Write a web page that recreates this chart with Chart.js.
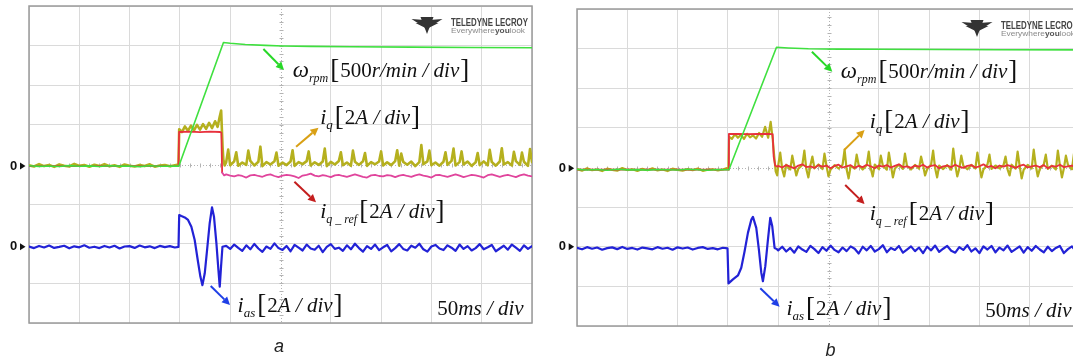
<!DOCTYPE html>
<html>
<head>
<meta charset="utf-8">
<script src="https://cdn.jsdelivr.net/npm/chart.js@4.4.1/dist/chart.umd.min.js"></script>
<style>
  html, body { margin: 0; padding: 0; background: #fff; overflow: hidden; }
  #wrap { position: relative; width: 1073px; height: 361px; overflow: hidden; }
  canvas { position: absolute; top: 0; }
  #scopeA { left: 0; }
  #scopeB { left: 540px; }
</style>
</head>
<body>
<div id="wrap">
  <canvas id="scopeA" width="540" height="361"></canvas>
  <canvas id="scopeB" width="550" height="361"></canvas>
</div>
<script>
// --- Scope scales (one division = 500 r/min for speed, 2 A for currents), time in ms ---
const RPM_PER_DIV = 500;
const AMP_PER_DIV = 2;
const TIME_TICKS = [0, 50, 100, 150, 200, 250, 300, 350, 400, 450, 500];

// common time bases (ms)
const tPre = [0, 5, 10, 15, 20, 25, 30, 35, 40, 45, 50, 55, 60, 65, 70,
  75, 80, 85, 90, 95, 100, 105, 110, 115, 120, 125, 130, 135, 140, 145];
const tA_post = [196, 200, 204, 208, 212, 216, 220, 224, 228, 232, 236,
  240, 244, 248, 252, 256, 260, 264, 268, 272, 276, 280,
  284, 288, 292, 296, 300, 304, 308, 312, 316, 320, 324,
  328, 332, 336, 340, 344, 348, 352, 356, 360, 364, 368,
  372, 376, 380, 384, 388, 392, 396, 400, 404, 408, 412,
  416, 420, 424, 428, 432, 436, 440, 444, 448, 452, 456,
  460, 464, 468, 472, 476, 480, 484, 488, 492, 496, 500];
const tB_post = [200, 204, 208, 212, 216, 220, 224, 228, 232, 236, 240,
  244, 248, 252, 256, 260, 264, 268, 272, 276, 280, 284,
  288, 292, 296, 300, 304, 308, 312, 316, 320, 324, 328,
  332, 336, 340, 344, 348, 352, 356, 360, 364, 368, 372,
  376, 380, 384, 388, 392, 396, 400, 404, 408, 412, 416,
  420, 424, 428, 432, 436, 440, 444, 448, 452, 456, 460,
  464, 468, 472, 476, 480, 484, 488, 492, 496, 500, 504];

// ===== Panel a =====
// speed (r/min)
const tA_w = [0, 10, 20, 30, 40, 50, 60, 70, 80, 90, 100, 110, 120, 130, 140, 149,
  193.3, 200, 215, 235, 252, 280, 320, 380, 440, 500];
const wA = [-15, -24, -18, -26, -14, -22, -17, -25, -16, -21, -19, -27, -15, -23, -18, -20,
  1540, 1530, 1515, 1503, 1496, 1490, 1486, 1481, 1477, 1473];
// iq (A)
const iqA_pre = [-0.04, -0.10, 0.02, -0.08, -0.02, -0.12, 0.00, -0.06, -0.10, 0.03, -0.07, -0.03, -0.11, -0.01, -0.08,
  0.02, -0.09, -0.04, -0.12, 0.00, -0.06, -0.10, -0.02, -0.08, 0.01, -0.11, -0.05, -0.03, -0.09, -0.04];
const tA_iqStep = [148.6, 149.3, 152, 155, 158, 161, 164, 167, 170, 173, 176, 179, 182, 185, 187.5, 189.5, 191.0, 192.4, 193.2, 194.5];
const iqA_step = [0, 1.78, 1.64, 1.92, 1.70, 1.96, 1.72, 2.00, 1.76, 2.04, 1.80, 2.10, 1.84, 2.18, 1.90, 2.40, 2.72, 0.90, 0.25, -0.05];
const iqA_post = [0.12, -0.04, 0.16, -0.06, 0.10, -0.02, 0.18, -0.05, 0.14, -0.08, 0.12,
  0.00, 0.16, -0.06, 0.10, -0.03, 0.15, -0.07, 0.12, 0.02, 0.17, -0.05,
  0.11, -0.02, 0.15, -0.08, 0.13, 0.00, 0.18, -0.04, 0.10, -0.06, 0.14,
  -0.02, 0.16, -0.07, 0.12, 0.01, 0.15, -0.05, 0.11, -0.03, 0.17, -0.06,
  0.13, -0.01, 0.15, -0.08, 0.12, 0.02, 0.16, -0.04, 0.10, -0.06, 0.14,
  -0.02, 0.18, -0.05, 0.12, 0.00, 0.15, -0.07, 0.11, -0.03, 0.16, -0.04,
  0.13, -0.06, 0.15, 0.00, 0.12, -0.05, 0.17, -0.02, 0.14, -0.07, 0.12];
// iq spikes after the transient
const tA_iqSpike = [198, 206, 218, 230, 246, 262, 278, 294, 310, 322, 334, 350, 366, 370,
  390, 398, 414, 422, 430, 446, 458, 470, 482, 490, 498];
const iqA_spike = [0.75, 0.62, 0.70, 0.90, 0.60, 0.72, 0.66, 0.80, 0.62, 0.70, 0.58, 0.66, 0.72, 0.55,
  0.98, 0.70, 0.62, 0.80, 0.66, 0.58, 0.74, 0.82, 0.64, 0.60, 0.78];
// iq_ref (A)
const tA_ref = [0, 148.6, 149.2, 160, 170, 180, 190, 191.2, 192.0, 194];
const irefA_step = [-0.08, -0.08, 1.64, 1.66, 1.63, 1.66, 1.64, 1.60, -0.40, -0.55];
const irefA_post = [-0.50, -0.56, -0.60, -0.54, -0.58, -0.66, -0.55, -0.52, -0.58, -0.62, -0.54,
  -0.50, -0.58, -0.64, -0.56, -0.52, -0.55, -0.60, -0.68, -0.56, -0.52, -0.46,
  -0.56, -0.60, -0.54, -0.58, -0.64, -0.55, -0.52, -0.58, -0.62, -0.56, -0.50,
  -0.56, -0.62, -0.66, -0.55, -0.52, -0.58, -0.60, -0.54, -0.56, -0.64, -0.56,
  -0.52, -0.58, -0.62, -0.55, -0.50, -0.56, -0.60, -0.66, -0.54, -0.52, -0.58,
  -0.62, -0.56, -0.50, -0.56, -0.64, -0.58, -0.52, -0.55, -0.60, -0.66, -0.54,
  -0.50, -0.56, -0.62, -0.56, -0.52, -0.58, -0.64, -0.55, -0.50, -0.56, -0.60];
// ias (A)
const iasA_pre = [0.02, -0.06, 0.05, -0.03, 0.07, -0.05, 0.00, 0.06, -0.07, 0.03, -0.02, 0.08, -0.04, 0.01, -0.06,
  0.05, -0.03, 0.06, -0.08, 0.02, 0.04, -0.05, 0.07, -0.02, 0.03, -0.06, 0.05, -0.01, 0.04, -0.03];
const tA_iasStep = [148.6, 149.3, 151.5, 154.8, 158.1, 161.4, 164.7, 168.0, 170.4, 172.4, 174.7, 177.0, 179.6, 181.9, 183.9, 186.3, 188.3, 189.6, 190.9, 192.3];
const iasA_step = [0, 1.61, 1.56, 1.49, 1.36, 1.02, 0.35, -0.75, -1.51, -1.93, -1.33, -0.16, 1.19, 2.00, 1.52, 0.18, -1.17, -2.01, -1.00, 0.01];
const iasA_post = [0.05, -0.10, 0.12, -0.05, -0.20, 0.08, -0.12, 0.15, -0.08, -0.25, 0.02,
  -0.10, 0.18, -0.06, -0.15, 0.05, -0.22, 0.10, -0.04, -0.18, 0.12, -0.08,
  -0.14, 0.06, -0.26, 0.00, 0.14, -0.10, -0.04, -0.20, 0.08, -0.12, 0.16,
  -0.06, -0.24, 0.04, -0.10, 0.12, -0.16, -0.02, 0.10, -0.22, -0.06, 0.14,
  -0.10, -0.18, 0.06, -0.04, 0.16, -0.12, -0.24, 0.02, 0.10, -0.08, -0.16,
  0.08, -0.04, -0.20, 0.12, -0.10, 0.04, -0.18, -0.06, 0.14, -0.12, -0.02,
  0.10, -0.22, -0.08, 0.06, -0.14, 0.12, -0.04, -0.20, 0.08, -0.10, 0.04];

// ===== Panel b =====
const tB_w = [0, 10, 20, 30, 40, 50, 60, 70, 80, 90, 100, 110, 120, 130, 140, 151,
  198.3, 210, 230, 260, 300, 360, 420, 500];
const wB = [-24, -32, -26, -34, -22, -30, -27, -33, -25, -29, -31, -23, -28, -34, -26, -29,
  1517, 1508, 1498, 1494, 1492, 1489, 1486, 1484];
const iqB_pre = [-0.08, -0.16, -0.04, -0.14, -0.10, -0.18, -0.06, -0.12, -0.16, -0.03, -0.13, -0.09, -0.17, -0.07, -0.14,
  -0.04, -0.15, -0.10, -0.18, -0.06, -0.12, -0.16, -0.08, -0.14, -0.05, -0.17, -0.11, -0.09, -0.15, -0.10];
const tB_iqStep = [150.5, 151.2, 154, 157, 160, 163, 166, 169, 172, 175, 178, 181, 184, 187, 190, 192.5, 194.5, 196, 197.5, 199];
const iqB_step = [0, 1.55, 1.45, 1.68, 1.50, 1.65, 1.44, 1.70, 1.52, 1.62, 1.46, 1.74, 1.55, 2.05, 1.50, 2.30, 1.45, 0.60, -0.20, -0.40];
const iqB_post = [0.10, -0.08, 0.14, -0.10, 0.08, -0.06, 0.13, -0.09, 0.11, -0.04, 0.15,
  -0.08, 0.09, -0.11, 0.12, -0.05, 0.14, -0.09, 0.08, -0.06, 0.13, -0.10,
  0.11, -0.04, 0.15, -0.08, 0.10, -0.11, 0.12, -0.05, 0.14, -0.07, 0.09,
  -0.10, 0.13, -0.06, 0.11, -0.09, 0.15, -0.04, 0.10, -0.08, 0.12, -0.11,
  0.14, -0.06, 0.09, -0.09, 0.13, -0.05, 0.11, -0.10, 0.15, -0.07, 0.10,
  -0.04, 0.12, -0.09, 0.14, -0.06, 0.08, -0.11, 0.13, -0.05, 0.11, -0.08,
  0.15, -0.07, 0.09, -0.10, 0.12, -0.04, 0.14, -0.09, 0.10, -0.06, 0.12];
const tB_iqSpike = [202, 206, 214, 218, 226, 230, 234, 246, 250, 266, 270, 278, 290, 294, 302, 310, 314, 326,
  342, 346, 354, 358, 374, 378, 382, 398, 402, 410, 426, 430, 438, 442, 454, 458, 466, 478, 482, 486, 494, 498];
const iqB_spike = [0.75, -0.45, 0.60, -0.40, 0.85, -0.50, 0.55, 0.70, -0.45, 0.90, -0.55, 0.65, 0.80, -0.45, 0.60, 0.75, -0.50, 0.70,
  0.55, -0.40, 0.85, -0.50, 0.95, -0.45, 0.60, 0.75, -0.50, 0.65, 0.55, -0.40, 0.80, -0.55, 0.90, -0.45, 0.65, 0.85, -0.50, 0.60, 0.70, -0.45];
const tB_ref = [0, 150.5, 151.0, 160, 170, 180, 190, 194.5, 195.5, 197, 199];
const irefB_step = [-0.11, -0.11, 1.69, 1.70, 1.68, 1.70, 1.69, 1.68, 0.55, 0.10, 0.04];
const irefB_post = [0.08, 0.00, 0.12, 0.04, -0.04, 0.10, 0.16, 0.02, 0.06, -0.02, 0.12,
  0.04, 0.10, -0.04, 0.08, 0.14, 0.00, 0.06, 0.12, -0.02, 0.08, 0.02,
  0.14, 0.06, -0.04, 0.10, 0.04, 0.12, 0.00, 0.08, 0.16, 0.02, 0.06,
  -0.02, 0.10, 0.04, 0.14, 0.00, 0.08, 0.12, -0.04, 0.06, 0.10, 0.02,
  0.14, 0.04, -0.02, 0.08, 0.12, 0.00, 0.06, 0.16, 0.02, 0.08, -0.04,
  0.10, 0.04, 0.12, 0.06, -0.02, 0.08, 0.14, 0.00, 0.06, 0.10, 0.02,
  0.12, -0.04, 0.08, 0.04, 0.14, 0.02, 0.06, 0.10, -0.02, 0.08, 0.04];
const iasB_pre = [0.03, -0.05, 0.06, -0.02, 0.04, -0.07, 0.01, 0.05, -0.04, 0.07, -0.03, 0.02, -0.06, 0.04, 0.00,
  -0.05, 0.06, -0.02, 0.03, -0.07, 0.05, -0.01, 0.04, -0.06, 0.02, 0.06, -0.03, 0.01, -0.05, 0.03];
const tB_iasStep = [149.6, 150.6, 155, 160, 163.3, 166.6, 169.9, 173.3, 174.9, 178.2, 180.8, 183.2, 184.8, 187.2, 189.8, 192.1, 194.1, 196.4, 198.7];
const iasB_step = [0, -1.77, -1.57, -1.37, -0.98, -0.15, 0.78, 1.45, 1.59, 1.03, -0.06, -1.23, -1.66, -0.90, 0.44, 1.54, 1.11, 0.02, -0.04];
const iasB_post = [-0.10, 0.08, -0.16, 0.02, -0.22, 0.10, -0.06, -0.18, 0.12, -0.04, -0.24,
  0.06, -0.12, 0.14, -0.08, -0.20, 0.04, -0.14, 0.10, -0.02, -0.26, 0.08,
  -0.10, 0.12, -0.16, -0.04, 0.16, -0.20, 0.02, -0.08, 0.12, -0.22, -0.06,
  0.10, -0.14, 0.04, -0.24, 0.08, -0.10, 0.14, -0.18, -0.02, 0.12, -0.12,
  -0.22, 0.06, -0.08, 0.16, -0.16, 0.00, -0.24, 0.10, -0.06, 0.12, -0.20,
  0.04, -0.10, 0.14, -0.18, -0.04, 0.10, -0.22, 0.06, -0.12, 0.12, -0.06,
  -0.20, 0.08, -0.14, 0.02, 0.12, -0.24, -0.04, 0.10, -0.16, 0.06, -0.10];

// --- colours ---
const C_GREEN = '#3fe03f';
const C_OLIVE = '#b5b01e';
const C_RED = '#e8303c';
const C_MAGENTA = '#e0449c';
const C_BLUE = '#2222d6';
const SERIF = '"Liberation Serif", "Times New Roman", serif';
const SANS = '"Liberation Sans", Arial, sans-serif';

// ias channel sits two divisions below centre
const IAS_ZERO_A = -2.08;
const IAS_ZERO_B = -2.04;

// join (times, values) chunks into {x, y} points in divisions, time-ordered
function trace(parts, perDiv, zeroDiv) {
  const out = [];
  parts.forEach(([ts, vs]) => {
    ts.forEach((t, i) => out.push({ x: t, y: vs[i] / perDiv + (zeroDiv || 0) }));
  });
  return out.sort((p, q) => p.x - q.x);
}

function line(data, color, width, extra) {
  return Object.assign({ data, borderColor: color, borderWidth: width, pointRadius: 0, fill: false }, extra || {});
}

// --- drawing helpers ---
function runText(ctx, x, y, runs) {
  runs.forEach(r => {
    ctx.font = r[1] + ' ' + SERIF;
    ctx.fillText(r[0], x, y + (r[2] || 0));
    x += ctx.measureText(r[0]).width + (r[3] || 0);
  });
}

function arrow(ctx, color, x0, y0, x1, y1) {
  const a = Math.atan2(y1 - y0, x1 - x0);
  const hl = 8, hw = 4;
  ctx.strokeStyle = color;
  ctx.fillStyle = color;
  ctx.lineWidth = 2;
  ctx.beginPath();
  ctx.moveTo(x0, y0);
  ctx.lineTo(x1 - Math.cos(a) * hl, y1 - Math.sin(a) * hl);
  ctx.stroke();
  ctx.beginPath();
  ctx.moveTo(x1, y1);
  ctx.lineTo(x1 - Math.cos(a) * hl - Math.sin(a) * hw, y1 - Math.sin(a) * hl + Math.cos(a) * hw);
  ctx.lineTo(x1 - Math.cos(a) * hl + Math.sin(a) * hw, y1 - Math.sin(a) * hl - Math.cos(a) * hw);
  ctx.closePath();
  ctx.fill();
}

function logo(ctx, x, y) {
  ctx.fillStyle = '#333';
  const tri = (p) => { ctx.beginPath(); ctx.moveTo(p[0], p[1]); ctx.lineTo(p[2], p[3]); ctx.lineTo(p[4], p[5]); ctx.closePath(); ctx.fill(); };
  tri([x, y + 2, x + 13, y + 3, x + 11, y + 9]);
  tri([x + 31, y + 2, x + 18, y + 3, x + 20, y + 9]);
  tri([x + 9, y, x + 22, y, x + 15.5, y + 17]);
  tri([x + 4, y + 6, x + 12, y + 6, x + 14, y + 11]);
  tri([x + 27, y + 6, x + 19, y + 6, x + 17, y + 11]);
  // brand text squeezed to width
  const tx = x + 39.5;
  ctx.save();
  ctx.font = 'bold 10px ' + SANS;
  let w = ctx.measureText('TELEDYNE LECROY').width;
  ctx.translate(tx, y + 8.5);
  ctx.scale(77 / w, 1);
  ctx.fillStyle = '#444';
  ctx.fillText('TELEDYNE LECROY', 0, 0);
  ctx.restore();
  ctx.save();
  const p1 = 'Everywhere', p3 = 'look';
  ctx.font = 'bold 7px ' + SANS;
  const wy = ctx.measureText('you').width;
  ctx.font = '7px ' + SANS;
  w = ctx.measureText(p1).width + wy + ctx.measureText(p3).width;
  ctx.translate(tx, y + 15.5);
  ctx.scale(74 / w, 1);
  ctx.fillStyle = '#8a8a8a';
  ctx.fillText(p1, 0, 0);
  let cx = ctx.measureText(p1).width;
  ctx.font = 'bold 7px ' + SANS;
  ctx.fillStyle = '#555';
  ctx.fillText('you', cx, 0);
  cx += wy;
  ctx.font = '7px ' + SANS;
  ctx.fillStyle = '#8a8a8a';
  ctx.fillText(p3, cx, 0);
  ctx.restore();
}

// oscilloscope decorations: centre crosshair, frame, labels
function scopeDecor(cfg) {
  return {
    id: 'scopeDecor',
    beforeDatasetsDraw(chart) {
      const { ctx, chartArea: a, scales: { x, y } } = chart;
      const cx = Math.round(x.getPixelForValue(250)) + 0.5;
      const cy = Math.round(y.getPixelForValue(0)) + 0.5;
      ctx.save();
      ctx.strokeStyle = '#b4b4b4';
      ctx.lineWidth = 1;
      ctx.setLineDash([1, 2]);
      ctx.beginPath();
      ctx.moveTo(a.left, cy); ctx.lineTo(a.right, cy);
      ctx.moveTo(cx, a.top); ctx.lineTo(cx, a.bottom);
      ctx.stroke();
      ctx.setLineDash([]);
      ctx.beginPath();
      for (let t = 10; t < 500; t += 10) {
        const px = Math.round(x.getPixelForValue(t)) + 0.5;
        ctx.moveTo(px, cy - 2); ctx.lineTo(px, cy + 2);
      }
      for (let d = -3.8; d < 4; d += 0.2) {
        const py = Math.round(y.getPixelForValue(d)) + 0.5;
        ctx.moveTo(cx - 2, py); ctx.lineTo(cx + 2, py);
      }
      ctx.stroke();
      ctx.strokeStyle = '#9a9a9a';
      ctx.lineWidth = 1.5;
      ctx.strokeRect(a.left, a.top, a.right - a.left, a.bottom - a.top);
      ctx.restore();
    },
    afterDraw(chart) {
      const ctx = chart.ctx;
      ctx.save();
      ctx.translate(-cfg.offsetX, 0);
      ctx.textBaseline = 'alphabetic';
      ctx.textAlign = 'left';
      ctx.fillStyle = '#111';
      const L = cfg.labels;
      runText(ctx, L.omega[0], L.omega[1], [['ω', 'italic 23px'], ['rpm', 'italic 12px', 5, 2], ['[', '27px', 1, 1],
        ['500', '21px'], ['r/min', 'italic 21px'], [' / div', 'italic 21px', 0, 1], [']', '27px', 1]]);
      runText(ctx, L.iq[0], L.iq[1], [['i', 'italic 22px'], ['q', 'italic 13px', 5, 2], ['[', '27px', 1, 1],
        ['2', '21px'], ['A / div', 'italic 21px', 0, 1], [']', '27px', 1]]);
      runText(ctx, L.iqref[0], L.iqref[1], [['i', 'italic 22px'], ['q _ ref', 'italic 12px', 5, 2], ['[', '27px', 1, 1],
        ['2', '21px'], ['A / div', 'italic 21px', 0, 1], [']', '27px', 1]]);
      runText(ctx, L.ias[0], L.ias[1], [['i', 'italic 22px'], ['as', 'italic 13px', 5, 2], ['[', '27px', 1, 1],
        ['2', '21px'], ['A / div', 'italic 21px', 0, 1], [']', '27px', 1]]);
      runText(ctx, L.time[0], L.time[1], [['50', '21px'], ['ms / div', 'italic 21px']]);
      cfg.arrows.forEach(a => arrow(ctx, a[0], a[1], a[2], a[3], a[4]));
      logo(ctx, cfg.logo[0], cfg.logo[1]);
      // channel zero markers
      ctx.fillStyle = '#111';
      ctx.font = 'bold 13px ' + SANS;
      ctx.textBaseline = 'middle';
      cfg.zeros.forEach(([zx, zy]) => {
        ctx.fillText('0', zx, zy);
        ctx.beginPath();
        ctx.moveTo(zx + 10, zy - 3.5); ctx.lineTo(zx + 15.5, zy); ctx.lineTo(zx + 10, zy + 3.5);
        ctx.closePath(); ctx.fill();
      });
      ctx.font = 'italic 18px ' + SANS;
      ctx.textAlign = 'center';
      ctx.textBaseline = 'alphabetic';
      ctx.fillStyle = '#222';
      ctx.fillText(cfg.letter[0], cfg.letter[1], cfg.letter[2]);
      ctx.restore();
    }
  };
}

function gridColor(hideValue) {
  return (c) => (c.tick && c.tick.value === hideValue) ? 'rgba(0,0,0,0)' : '#dadada';
}

function scopeChart(id, pad, datasets, deco) {
  return new Chart(document.getElementById(id), {
    type: 'line',
    data: { datasets },
    options: {
      responsive: false,
      animation: false,
      devicePixelRatio: 1,
      events: [],
      layout: { padding: pad, autoPadding: false },
      elements: { line: { tension: 0, borderJoinStyle: 'round', borderCapStyle: 'round' }, point: { radius: 0 } },
      plugins: { legend: { display: false }, tooltip: { enabled: false } },
      scales: {
        x: {
          type: 'linear', min: 0, max: 500,
          afterBuildTicks: (s) => { s.ticks = TIME_TICKS.map(v => ({ value: v })); },
          ticks: { display: false },
          grid: { color: gridColor(250), drawTicks: false, lineWidth: 1 },
          border: { display: false }
        },
        y: {
          type: 'linear', min: -4, max: 4,
          ticks: { display: false, stepSize: 1 },
          grid: { color: gridColor(0), drawTicks: false, lineWidth: 1 },
          border: { display: false }
        }
      }
    },
    plugins: [scopeDecor(deco)]
  });
}

// --- Panel a ---
scopeChart('scopeA', { left: 29, top: 6, right: 8, bottom: 38 }, [
  line(trace([[tA_w, wA]], RPM_PER_DIV), C_GREEN, 1.6),
  line(trace([[tA_ref, irefA_step], [tA_post, irefA_post]], AMP_PER_DIV), C_RED, 1.8, {
    segment: { borderColor: (s) => s.p0.parsed.x >= 192 ? C_MAGENTA : C_RED }
  }),
  line(trace([[tPre, iqA_pre], [tA_iqStep, iqA_step], [tA_post, iqA_post], [tA_iqSpike, iqA_spike]], AMP_PER_DIV), C_OLIVE, 2.6),
  line(trace([[tPre, iasA_pre], [tA_iasStep, iasA_step], [tA_post, iasA_post]], AMP_PER_DIV, IAS_ZERO_A), C_BLUE, 2.2)
], {
  offsetX: 0,
  zeros: [[10, 166], [10, 246.7]],
  letter: ['a', 279, 352],
  labels: { omega: [292.7, 77], iq: [320.2, 124], iqref: [320.2, 218], ias: [237.6, 311.7], time: [437.3, 315] },
  arrows: [['#27d827', 263.4, 49, 284, 70], ['#d9a015', 296.1, 146.7, 318.5, 127.7],
    ['#c41e1e', 294.4, 181.7, 316, 202.3], ['#1f3fe6', 210.7, 286, 230, 305]],
  logo: [411.5, 17]
});

// --- Panel b ---
scopeChart('scopeB', { left: 37, top: 9, right: 10, bottom: 35 }, [
  line(trace([[tB_w, wB]], RPM_PER_DIV), C_GREEN, 1.6),
  line(trace([[tB_ref, irefB_step], [tB_post, irefB_post]], AMP_PER_DIV), C_RED, 1.8),
  line(trace([[tPre, iqB_pre], [tB_iqStep, iqB_step], [tB_post, iqB_post], [tB_iqSpike, iqB_spike]], AMP_PER_DIV), C_OLIVE, 2.2),
  line(trace([[tPre, iasB_pre], [tB_iasStep, iasB_step], [tB_post, iasB_post]], AMP_PER_DIV, IAS_ZERO_B), C_BLUE, 2.2)
], {
  offsetX: 540,
  zeros: [[558.7, 168.3], [558.7, 246.7]],
  letter: ['b', 830.6, 356],
  labels: { omega: [840.8, 78.3], iq: [869.7, 128.3], iqref: [869.7, 220], ias: [786.4, 315], time: [985.3, 316.7] },
  arrows: [['#27d827', 811.9, 51.7, 832.3, 71.7], ['#d9a015', 844.2, 150, 864.6, 130],
    ['#c41e1e', 845.2, 185, 864.6, 204], ['#1f3fe6', 760.3, 288.3, 779.6, 306.7]],
  logo: [961.5, 20]
});
</script>
</body>
</html>
